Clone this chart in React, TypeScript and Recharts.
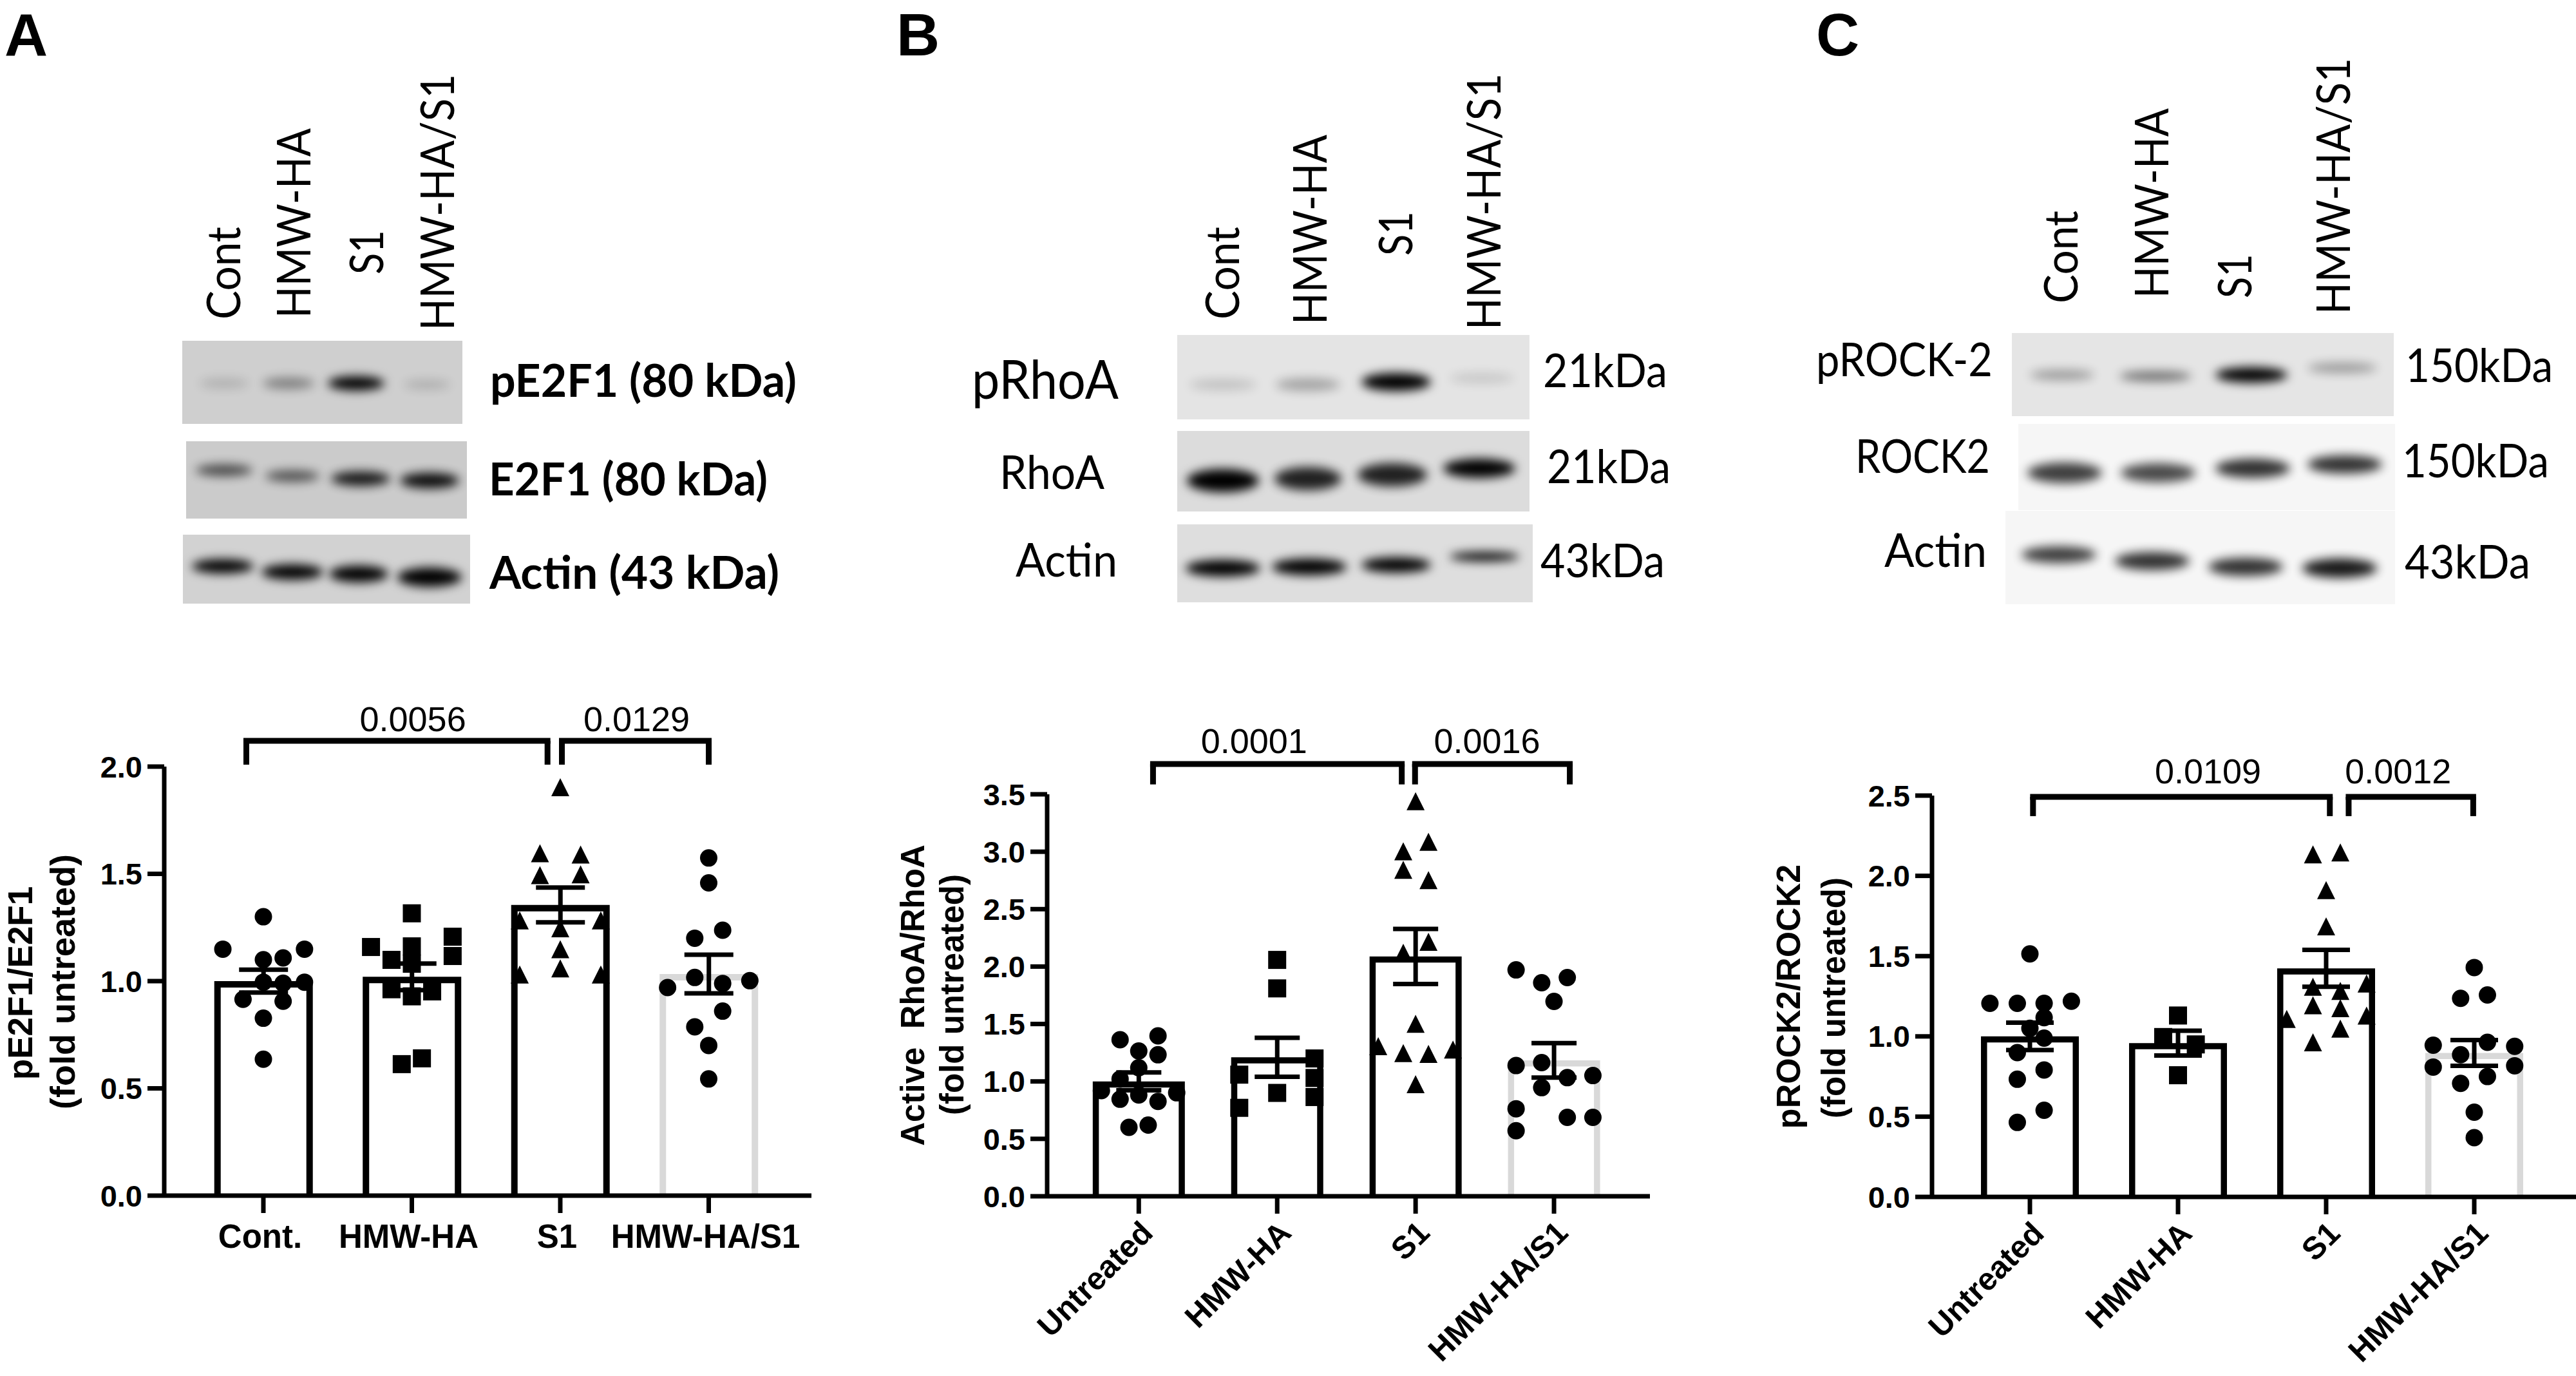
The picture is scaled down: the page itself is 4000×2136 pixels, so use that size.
import React from 'react';
import { ComposedChart, Bar, Scatter, XAxis, YAxis, ErrorBar, ReferenceLine, ReferenceDot } from 'recharts';

const SANS = '"Liberation Sans", Arial, sans-serif';
const BLOT = 'Lato, "Open Sans", sans-serif';

// ---- Panel A ----
const catsA = ['Cont.', 'HMW-HA', 'S1', 'HMW-HA/S1'];
const meansA = [1.0, 1.02, 1.355, 1.033];
const semsA = [0.053, 0.062, 0.081, 0.09];
const a0y = [1.3, 1.149, 1.149, 1.108, 1.1, 0.995, 0.99, 0.995, 0.915, 0.906, 0.827, 0.636];
const a0j = [0, -0.273, 0.277, 0.133, 0, 0, 0.133, 0.277, -0.137, 0.133, 0, 0];
const a1y = [1.316, 1.207, 1.159, 1.162, 1.117, 1.099, 1.081, 0.962, 0.952, 0.929, 0.64, 0.613];
const a1j = [0, 0.275, -0.275, 0, 0.275, -0.137, 0, -0.137, 0.137, 0, 0.068, -0.068];
const a2y = [1.904, 1.596, 1.59, 1.494, 1.498, 1.283, 1.283, 1.246, 1.149, 1.059, 1.031, 1.031];
const a2j = [0, -0.137, 0.137, -0.137, 0.137, -0.273, 0.273, 0, 0, 0, -0.273, 0.273];
const a3y = [1.574, 1.458, 1.237, 1.2, 1.017, 0.989, 1.002, 0.97, 0.86, 0.787, 0.7, 0.544];
const a3j = [0, 0, 0.094, -0.094, -0.094, 0.094, 0.277, -0.277, 0.094, -0.094, 0, 0];

// ---- Panel B ----
const catsB = ['Untreated', 'HMW-HA', 'S1', 'HMW-HA/S1'];
const meansB = [1.0, 1.21, 2.088, 1.183];
const semsB = [0.078, 0.17, 0.24, 0.15];
const b0y = [1.363, 1.397, 1.265, 1.232, 1.119, 1.021, 0.92, 0.901, 0.882, 0.845, 0.826, 0.6, 0.62];
const b0j = [-0.135, 0.139, 0, 0.139, 0, -0.135, -0.27, 0.274, 0, -0.135, 0.139, -0.071, 0.068];
const b1y = [2.058, 1.81, 1.2, 1.059, 1.03, 0.9, 0.864, 0.77];
const b1j = [0, 0, 0.27, -0.274, 0.27, 0, 0.27, -0.274];
const b2y = [3.44, 3.087, 3.004, 2.843, 2.753, 2.216, 2.12, 1.502, 1.307, 1.277, 1.247, 1.239, 0.976];
const b2j = [0, 0.093, -0.089, -0.089, 0.093, 0.093, -0.089, 0, -0.27, 0.27, -0.089, 0.093, 0];
const b3y = [1.971, 1.904, 1.859, 1.697, 1.138, 1.164, 1.033, 1.051, 0.946, 0.762, 0.687, 0.687, 0.571];
const b3j = [-0.274, 0.096, -0.089, 0, -0.274, -0.089, 0.096, 0.281, -0.089, -0.274, 0.096, 0.281, -0.274];

// ---- Panel C ----
const catsC = ['Untreated', 'HMW-HA', 'S1', 'HMW-HA/S1'];
const meansC = [1.0, 0.958, 1.424, 0.897];
const semsC = [0.085, 0.077, 0.115, 0.08];
const c0y = [1.514, 1.206, 1.206, 1.206, 1.219, 1.117, 1.05, 0.989, 0.899, 0.791, 0.733, 0.54, 0.464];
const c0j = [0, -0.27, -0.085, 0.096, 0.28, 0.096, 0, 0.096, -0.085, 0.096, -0.085, 0.096, -0.085];
const c1y = [1.13, 0.996, 0.95, 0.758];
const c1j = [0, -0.1, 0.12, 0];
const c2y = [2.146, 2.134, 1.911, 1.685, 1.309, 1.329, 1.283, 1.194, 1.176, 1.109, 1.13, 1.048, 0.963];
const c2j = [0.096, -0.089, 0, 0, -0.089, 0.273, 0.096, -0.089, 0.096, -0.266, 0.273, 0.096, -0.089];
const c3y = [1.429, 1.237, 1.258, 0.945, 0.963, 0.938, 0.886, 0.809, 0.817, 0.75, 0.707, 0.528, 0.369];
const c3j = [0, -0.092, 0.089, -0.277, 0.089, 0.273, -0.092, -0.277, 0.273, 0.089, -0.092, 0, 0];

const barStrokes = ['#000000', '#000000', '#000000', '#d9d9d9'];

const toPoints = (ys: number[], js: number[], g: number) => ys.map((y, i) => ({ x: g + js[i], y }));

const Circle = (p: any) => <circle cx={p.cx} cy={p.cy} r={13.5} fill="#000" />;
const Square = (p: any) => <rect x={p.cx - 14} y={p.cy - 14} width={28} height={28} fill="#000" />;
const Tri = (p: any) => (
  <polygon points={`${p.cx},${p.cy - 14} ${p.cx - 14},${p.cy + 14} ${p.cx + 14},${p.cy + 14}`} fill="#000" />
);

const makeBarShape = (sw: number) => (p: any) => {
  const { x, y, width, height, index } = p;
  const l = x + sw / 2;
  const r = x + width - sw / 2;
  const t = y + sw / 2;
  const b = y + height;
  return <path d={`M${l},${b} L${l},${t} L${r},${t} L${r},${b}`} fill="none" stroke={barStrokes[index]} strokeWidth={sw} />;
};

type PanelProps = {
  left: number; top: number; plotLeft: number; plotRight: number; plotTop: number; plotBottom: number;
  domainX: [number, number]; maxY: number; ticksY: number[]; cats: string[]; means: number[]; sems: number[];
  groups: [number[], number[]][]; barW: number; sw: number; cap: number; rotate: boolean;
  brackets: [number, number, number, number][]; pvals: [string, number, number][];
};

function Panel(p: PanelProps) {
  const width = p.plotRight - p.left;
  const height = 2136 - p.top;
  const rows = p.cats.map((c, i) => ({ x: i, mean: p.means[i], sem: p.sems[i] }));
  const shapes = [Circle, Square, Tri, Circle];
  const bl = { stroke: '#000', strokeWidth: 9 };
  return (
    <div style={{ position: 'absolute', left: p.left, top: p.top }}>
      <ComposedChart width={width} height={height} data={rows}
        margin={{ top: p.plotTop - p.top, left: 0, right: 0, bottom: 0 }}>
        <XAxis dataKey="x" type="number" domain={p.domainX} ticks={[0, 1, 2, 3]} interval={0}
          height={height - (p.plotBottom - p.top)} tickSize={27} tickMargin={p.rotate ? 8 : 18}
          axisLine={{ stroke: '#000', strokeWidth: 7 }} tickLine={{ stroke: '#000', strokeWidth: 7 }}
          tickFormatter={(v: number) => p.cats[v]}
          angle={p.rotate ? -45 : 0} textAnchor={p.rotate ? 'end' : 'middle'}
          tick={{ fontSize: p.rotate ? 49 : 51, fontWeight: 700, fontFamily: SANS, fill: '#000', dx: p.rotate ? 0 : -5 }} />
        <XAxis xAxisId="points" dataKey="x" type="number" domain={p.domainX} hide />
        <YAxis type="number" domain={[0, p.maxY]} ticks={p.ticksY} interval={0} width={p.plotLeft - p.left}
          tickSize={26} tickMargin={8} allowDataOverflow={false}
          axisLine={{ stroke: '#000', strokeWidth: 7 }} tickLine={{ stroke: '#000', strokeWidth: 7 }}
          tickFormatter={(v: number) => v.toFixed(1)}
          tick={{ fontSize: 47, fontWeight: 700, fontFamily: SANS, fill: '#000' }} />
        <Bar dataKey="mean" barSize={p.barW} isAnimationActive={false} shape={makeBarShape(p.sw)}>
          <ErrorBar dataKey="sem" width={p.cap} stroke="#000" strokeWidth={7} isAnimationActive={false} />
        </Bar>
        {p.groups.map((g, i) => (
          <Scatter key={i} xAxisId="points" data={toPoints(g[0], g[1], i)} dataKey="y" isAnimationActive={false} shape={shapes[i]} />
        ))}
        {p.brackets.map((b, i) => (
          <React.Fragment key={i}>
            <ReferenceLine ifOverflow="visible" {...bl} strokeLinecap="square" segment={[{ x: b[0], y: b[2] }, { x: b[1], y: b[2] }]} />
            <ReferenceLine ifOverflow="visible" {...bl} segment={[{ x: b[0], y: b[2] }, { x: b[0], y: b[3] }]} />
            <ReferenceLine ifOverflow="visible" {...bl} segment={[{ x: b[1], y: b[2] }, { x: b[1], y: b[3] }]} />
          </React.Fragment>
        ))}
        {p.pvals.map((v, i) => (
          <ReferenceDot key={i} x={v[1]} y={v[2]} r={0} ifOverflow="visible" stroke="none"
            label={{ value: v[0], position: 'top', offset: 0, fontSize: 54, fontFamily: SANS, fill: '#000' }} />
        ))}
      </ComposedChart>
    </div>
  );
}

// ---- Western blot strips ----
type Band = [number, number, number, number, number];
type Strip = { x: number; y: number; w: number; h: number; bg: string; bands: Band[] };

const stripsA: Strip[] = [
  { x: 283, y: 529, w: 435, h: 129, bg: '#cfcfcf', bands: [[348, 595, 38, 8, 0.14], [448, 595, 40, 9, 0.38], [553, 595, 44, 11, 1], [663, 597, 36, 7, 0.16]] },
  { x: 289, y: 685, w: 436, h: 120, bg: '#cbcbcb', bands: [[348, 730, 44, 9, 0.65], [454, 739, 42, 9, 0.6], [560, 743, 46, 11, 0.9], [667, 746, 46, 12, 0.95]] },
  { x: 284, y: 830, w: 446, h: 107, bg: '#d2d2d2', bands: [[346, 879, 48, 11, 1], [454, 888, 48, 12, 1], [557, 891, 46, 13, 1], [667, 896, 50, 15, 1]] },
];
const stripsB: Strip[] = [
  { x: 1828, y: 520, w: 547, h: 131, bg: '#e4e4e4', bands: [[1899, 597, 52, 9, 0.14], [2031, 597, 50, 10, 0.28], [2168, 593, 54, 14, 1], [2301, 587, 50, 8, 0.12]] },
  { x: 1828, y: 669, w: 547, h: 125, bg: '#dcdcdc', bands: [[1899, 746, 56, 18, 1], [2031, 743, 52, 18, 0.85], [2162, 737, 54, 18, 0.85], [2297, 727, 56, 15, 1]] },
  { x: 1828, y: 814, w: 552, h: 121, bg: '#dedede', bands: [[1899, 882, 58, 13, 1], [2033, 880, 58, 13, 1], [2168, 877, 54, 12, 1], [2305, 864, 54, 7, 1]] },
];
const stripsC: Strip[] = [
  { x: 3124, y: 517, w: 593, h: 129, bg: '#e5e5e5', bands: [[3202, 582, 50, 8, 0.32], [3347, 584, 56, 8, 0.5], [3496, 582, 56, 12, 1], [3637, 571, 54, 8, 0.32]] },
  { x: 3134, y: 658, w: 585, h: 134, bg: '#f6f6f6', bands: [[3206, 734, 58, 16, 0.75], [3351, 734, 58, 15, 0.7], [3498, 727, 58, 15, 0.8], [3641, 721, 58, 14, 0.8]] },
  { x: 3114, y: 793, w: 605, h: 145, bg: '#f6f6f6', bands: [[3197, 861, 58, 13, 0.75], [3342, 871, 58, 14, 0.8], [3487, 880, 58, 14, 0.8], [3633, 882, 58, 15, 0.9]] },
];

// text, x, baseline, width
const blotBold: [string, number, number, number][] = [
  ['pE2F1 (80 kDa)', 761, 616, 476],
  ['E2F1 (80 kDa)', 759, 769, 433],
  ['Actin (43 kDa)', 760, 914, 450],
];
const blotPlain: [string, number, number, number][] = [
  ['pRhoA', 1509, 619, 228],
  ['RhoA', 1552, 759, 163],
  ['Actin', 1577, 895, 158],
  ['21kDa', 2396, 601, 193],
  ['21kDa', 2402, 750, 192],
  ['43kDa', 2392, 896, 193],
  ['pROCK-2', 2820, 584, 274],
  ['ROCK2', 2881, 734, 209],
  ['Actin', 2926, 880, 159],
  ['150kDa', 3735, 593, 229],
  ['150kDa', 3730, 741, 228],
  ['43kDa', 3734, 898, 195],
];
// text, baseline x, start y, length
const laneLabels: [string, number, number, number][] = [
  ['Cont', 373, 496, 144], ['HMW-HA', 482, 494, 295], ['S1', 595, 426, 69], ['HMW-HA/S1', 705, 513, 398],
  ['Cont', 1924, 496, 144], ['HMW-HA', 2060, 504, 295], ['S1', 2193, 397, 69], ['HMW-HA/S1', 2330, 512, 398],
  ['Cont', 3226, 471, 144], ['HMW-HA', 3367, 463, 295], ['S1', 3496, 463, 69], ['HMW-HA/S1', 3649, 488, 398],
];
const letters: [string, number, number][] = [['A', 7, 86], ['B', 1392, 86], ['C', 2820, 86]];
// text, baseline x, centre y, size
const yTitles: [string, number, number, number][] = [
  ['pE2F1/E2F1', 50, 1526, 53], ['(fold untreated)', 116, 1524, 54],
  ['Active  RhoA/RhoA', 1435, 1545, 51], ['(fold untreated)', 1496, 1544, 51],
  ['pROCK2/ROCK2', 2795, 1547, 52], ['(fold untreated)', 2865, 1549, 51],
];

function Overlay() {
  const strips = [...stripsA, ...stripsB, ...stripsC];
  return (
    <svg width={4000} height={2136} style={{ position: 'absolute', left: 0, top: 0 }}>
      <defs>
        <filter id="blur" x="-50%" y="-150%" width="200%" height="400%"><feGaussianBlur stdDeviation="8" /></filter>
      </defs>
      {strips.map((s, i) => (
        <svg key={i} x={s.x} y={s.y} width={s.w} height={s.h}>
          <rect width={s.w} height={s.h} fill={s.bg} />
          {s.bands.map((b, j) => (
            <ellipse key={j} cx={b[0] - s.x} cy={b[1] - s.y} rx={b[2]} ry={b[3]} fill="#000" opacity={b[4]} filter="url(#blur)" />
          ))}
        </svg>
      ))}
      {letters.map((l, i) => (
        <text key={i} x={l[1]} y={l[2]} fontFamily={SANS} fontWeight={700} fontSize={93} fill="#000">{l[0]}</text>
      ))}
      {blotBold.map((t, i) => (
        <text key={i} x={t[1]} y={t[2]} fontFamily={BLOT} fontWeight={700} fontSize={70} fill="#000"
          textLength={t[3]} lengthAdjust="spacingAndGlyphs">{t[0]}</text>
      ))}
      {blotPlain.map((t, i) => (
        <text key={i} x={t[1]} y={t[2]} fontFamily={BLOT} fontSize={t[0] === 'pRhoA' ? 84 : 72} fill="#000"
          textLength={t[3]} lengthAdjust="spacingAndGlyphs">{t[0]}</text>
      ))}
      {laneLabels.map((t, i) => (
        <text key={i} transform={`translate(${t[1]},${t[2]}) rotate(-90)`} fontFamily={BLOT} fontSize={72} fill="#000"
          textLength={t[3]} lengthAdjust="spacingAndGlyphs">{t[0]}</text>
      ))}
      {yTitles.map((t, i) => (
        <text key={i} transform={`translate(${t[1]},${t[2]}) rotate(-90)`} textAnchor="middle" fontFamily={SANS}
          fontWeight={700} fontSize={t[3]} fill="#000" style={{ whiteSpace: 'pre' }}>{t[0]}</text>
      ))}
    </svg>
  );
}

export default function App() {
  return (
    <div style={{ position: 'absolute', left: 0, top: 0, width: 4000, height: 2136, background: '#fff', overflow: 'hidden' }}>
      <Overlay />
      <Panel left={60} top={1040} plotLeft={255} plotRight={1260} plotTop={1190} plotBottom={1856}
        domainX={[-0.668, 3.692]} maxY={2} ticksY={[0, 0.5, 1, 1.5, 2]} cats={catsA} means={meansA} sems={semsA}
        groups={[[a0y, a0j], [a1y, a1j], [a2y, a2j], [a3y, a3j]]} barW={153} sw={10} cap={38} rotate={false}
        brackets={[[-0.115, 1.914, 2.12, 2.009], [2.011, 3.0, 2.12, 2.009]]}
        pvals={[['0.0056', 1.007, 2.165], ['0.0129', 2.514, 2.165]]} />
      <Panel left={1400} top={1080} plotLeft={1626} plotRight={2562} plotTop={1233} plotBottom={1857}
        domainX={[-0.662, 3.693]} maxY={3.5} ticksY={[0, 0.5, 1, 1.5, 2, 2.5, 3, 3.5]} cats={catsB} means={meansB} sems={semsB}
        groups={[[b0y, b0j], [b1y, b1j], [b2y, b2j], [b3y, b3j]]} barW={143} sw={9.5} cap={35} rotate={true}
        brackets={[[0.103, 1.9, 3.763, 3.586], [1.996, 3.114, 3.763, 3.586]]}
        pvals={[['0.0001', 0.833, 3.857], ['0.0016', 2.516, 3.857]]} />
      <Panel left={2780} top={1130} plotLeft={3000} plotRight={4000} plotTop={1235} plotBottom={1858}
        domainX={[-0.661, 3.687]} maxY={2.5} ticksY={[0, 0.5, 1, 1.5, 2, 2.5]} cats={catsC} means={meansC} sems={semsC}
        groups={[[c0y, c0j], [c1y, c1j], [c2y, c2j], [c3y, c3j]]} barW={152} sw={9.5} cap={37} rotate={true}
        brackets={[[0.021, 2.025, 2.492, 2.372], [2.152, 2.993, 2.492, 2.372]]}
        pvals={[['0.0109', 1.202, 2.577], ['0.0012', 2.486, 2.577]]} />
    </div>
  );
}
